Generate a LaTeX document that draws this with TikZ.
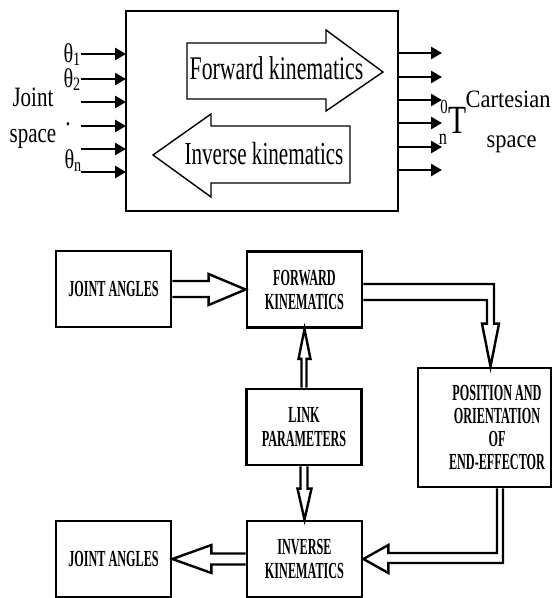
\documentclass[tikz,border=0pt]{standalone}
\usepackage{fontspec}
\setmainfont{Liberation Serif}
\newfontfamily\arrfont[FakeStretch=0.66]{Liberation Serif}
\newfontfamily\lblfont[FakeStretch=0.75]{Liberation Serif}
\newfontfamily\carfont[FakeStretch=0.9]{Liberation Serif}
\newfontfamily\tfont[FakeStretch=0.74]{Liberation Serif}
\newfontfamily\boxfont[FakeStretch=0.53]{Liberation Serif}
\usetikzlibrary{arrows.meta,calc}

\tikzset{
  block/.style = {draw, line width = 2.8pt, minimum width = 115pt, minimum height = 76pt, inner sep = 0pt, align = center, font = \boxfont\bfseries\fontsize{23}{24}\selectfont},
  hollow/.style = {line width = 2.4pt, line join = miter},
  sig/.style = {line width = 2.6pt, -{Triangle[length = 11pt, width = 12pt]}},
  bigarrow/.style = {line width = 1.4pt, line join = miter},
  txt/.style = {anchor = base, inner sep = 0pt}
}

\begin{document}
\begin{tikzpicture}[x = 1pt, y = -1pt]
\useasboundingbox (0, 0) rectangle (552, 598);
%% joint space -> cartesian space
\node [draw, line width = 2.7pt, outer sep = 0pt, minimum width = 272pt, minimum height = 200pt] (sys) at (262, 111) {};
\draw [bigarrow] (187, 43) -- (326, 43) -- (326, 30) -- (383, 72) -- (326, 111) -- (326, 99) -- (187, 99) -- cycle;
\draw [bigarrow] (350, 126) -- (211, 126) -- (211, 114) -- (153, 155) -- (211, 197) -- (211, 183) -- (350, 183) -- cycle;
\node [txt, font = \arrfont\fontsize{33}{33}\selectfont] (fwd) at (276.5, 79) {Forward kinematics};
\node [txt, font = \arrfont\fontsize{32}{32}\selectfont] (inv) at (264, 164) {Inverse kinematics};
\foreach \y [count = \i] in {54, 79, 102, 126, 149, 172} {
  \coordinate (in\i) at (81, \y);
  \draw [sig] (in\i) -- (in\i -| sys.west);
}
\foreach \y [count = \i] in {53, 77, 100, 123, 147, 170} {
  \coordinate (out\i) at (442, \y);
  \draw [sig] (out\i -| sys.east) -- (out\i);
}
\node [txt, anchor = base east, font = \lblfont\fontsize{27}{27}\selectfont] (th1) at (81, 62) {θ\textsubscript{1}};
\node [txt, anchor = base east, font = \lblfont\fontsize{27}{27}\selectfont] (th2) at (81, 87) {θ\textsubscript{2}};
\node [txt, font = \lblfont\fontsize{28}{28}\selectfont] (thdot) at (68, 125.5) {.};
\node [txt, anchor = base east, font = \lblfont\fontsize{27}{27}\selectfont] (thn) at (82, 168) {θ\textsubscript{n}};
\node [txt, font = \lblfont\fontsize{28}{28}\selectfont] (jsp1) at (33, 106) {Joint};
\node [txt, font = \lblfont\fontsize{28}{28}\selectfont] (jsp2) at (33, 142) {space};
\node [txt, font = \tfont\fontsize{20}{20}\selectfont] (tsup) at (444, 113) {0};
\node [txt, font = \tfont\fontsize{22}{22}\selectfont] (tsub) at (443, 144) {n};
\node [txt, font = \tfont\fontsize{40}{40}\selectfont] (tT) at (458, 133) {T};
\node [txt, font = \carfont\fontsize{25}{25}\selectfont] (csp1) at (508, 107) {Cartesian};
\node [txt, font = \carfont\fontsize{25}{25}\selectfont] (csp2) at (511.5, 147) {space};

%% block diagram
\node [block] (ja1) at (113.5, 289) {JOINT ANGLES};
\node [block] (fk) at (304.5, 289.5) {FORWARD\\KINEMATICS};
\node [block] (link) at (304, 427) {LINK\\PARAMETERS};
\node [block, minimum width = 133pt, minimum height = 119pt] (pos) at (484.5, 427.5) {};
\node [align = center, inner sep = 0pt, font = \boxfont\bfseries\fontsize{23}{23}\selectfont] (posl) at (497, 427) {POSITION AND\\ORIENTATION\\OF\\END-EFFECTOR};
\node [block] (ik) at (304.5, 559) {INVERSE\\KINEMATICS};
\node [block] (ja2) at (113.5, 559) {JOINT ANGLES};

\draw [hollow] ($(ja1.east) + (0, -8)$) -| ($(fk.west) + (-37, -15.5)$) -- (fk.west) -- ($(fk.west) + (-37, 15.5)$) |- ($(ja1.east) + (0, 8)$);
\draw [hollow] ($(fk.east) + (0, -5.5)$) -| ($(pos.north) + (9.5, -43)$) -- ++(5, 0) -- ($(pos.north) + (6, 0)$) -- ($(pos.north) + (-2.5, -43)$) -- ++(5, 0) |- ($(fk.east) + (0, 10.5)$);
\draw [hollow] ($(link.north) + (-2.5, 0)$) |- ($(fk.south) + (-6, 30)$) -- (fk.south) -- ($(fk.south) + (6, 30)$) -| ($(link.north) + (2.5, 0)$);
\draw [hollow] ($(link.south) + (-3.5, 0)$) |- ($(ik.north) + (-7, -31)$) -- (ik.north) -- ($(ik.north) + (7, -31)$) -| ($(link.south) + (3.5, 0)$);
\draw [hollow] ($(pos.south) + (12.5, 0)$) |- ($(ik.east) + (25, -6)$) -- ++(0, -8) -- (ik.east) -- ($(ik.east) + (25, 14)$) -- ++(0, -10) -| ($(pos.south) + (18.5, 0)$);
\draw [hollow] ($(ik.west) + (0, -5.5)$) -- ($(ja2.east) + (39, -5.5)$) -- ($(ja2.east) + (39, -14)$) -- (ja2.east) -- ($(ja2.east) + (39, 14)$) -- ($(ja2.east) + (39, 5.5)$) -- ($(ik.west) + (0, 5.5)$);
\end{tikzpicture}
\end{document}
